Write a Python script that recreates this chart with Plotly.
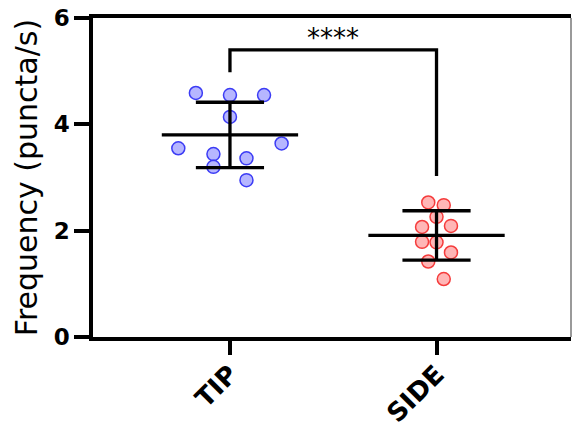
import plotly.graph_objects as go

categories = ["TIP", "SIDE"]
cat_pos = [0, 1]
tip_values = [4.59, 4.55, 4.55, 4.14, 3.55, 3.64, 3.44, 3.20, 3.36, 2.95]
tip_jitter = [-0.165, 0.0, 0.165, 0.0, -0.25, 0.25, -0.08, -0.08, 0.08, 0.08]
side_values = [2.53, 2.48, 2.26, 2.07, 2.09, 1.79, 1.78, 1.59, 1.42, 1.09]
side_jitter = [-0.04, 0.035, 0.0, -0.07, 0.07, -0.07, 0.0, 0.07, -0.04, 0.035]
means = [3.80, 1.91]
sds = [0.615, 0.465]
y_ticks = [0, 2, 4, 6]
sig_label = "****"
bracket_y = 5.40
bracket_left_bottom = 4.98
bracket_right_bottom = 3.03

FONT = "DejaVu Sans, Verdana, Arial"

fig = go.Figure()
series = [
    (tip_values, tip_jitter, "rgba(110,110,255,0.5)", "rgb(60,60,245)"),
    (side_values, side_jitter, "rgba(255,110,110,0.5)", "rgb(245,60,60)"),
]
for i, (vals, jit, fill, edge) in enumerate(series):
    xs = [cat_pos[i] + j for j in jit]
    fig.add_trace(go.Scatter(x=xs, y=vals, mode="markers",
                             marker=dict(size=13, color=fill, line=dict(color=edge, width=1.5)),
                             showlegend=False))

blk = dict(color="black", width=3.3)
for i in range(2):
    c = cat_pos[i]
    m, s = means[i], sds[i]
    fig.add_trace(go.Scatter(x=[c - 0.33, c + 0.33], y=[m, m], mode="lines", line=blk, showlegend=False))
    fig.add_trace(go.Scatter(x=[c, c], y=[m - s, m + s], mode="lines", line=blk, showlegend=False))
    for yv in (m - s, m + s):
        fig.add_trace(go.Scatter(x=[c - 0.165, c + 0.165], y=[yv, yv], mode="lines", line=blk, showlegend=False))

fig.add_trace(go.Scatter(x=[cat_pos[0], cat_pos[0], cat_pos[1], cat_pos[1]],
                         y=[bracket_left_bottom, bracket_y, bracket_y, bracket_right_bottom],
                         mode="lines", line=blk, showlegend=False))
fig.add_annotation(x=(cat_pos[0] + cat_pos[1]) / 2, y=bracket_y, text=sig_label, showarrow=False,
                   yanchor="bottom", yshift=-5, font=dict(family=FONT, size=26, color="black"))

fig.add_shape(type="line", xref="paper", yref="paper", x0=1, x1=1, y0=0, y1=1,
              line=dict(color="rgb(120,120,120)", width=1.5))

fig.update_layout(
    width=573, height=429,
    margin=dict(l=93, r=2, t=18, b=92),
    plot_bgcolor="white", paper_bgcolor="white",
    font=dict(family=FONT, color="black"),
    xaxis=dict(range=[-0.663, 1.651], tickvals=cat_pos, ticktext=["<b>%s</b>" % c for c in categories],
               tickangle=-45, showline=True, linecolor="black", linewidth=3.5, mirror=True,
               ticks="outside", ticklen=14, tickwidth=3.5, tickcolor="black", automargin=False,
               ticklabelstandoff=-6,
               showgrid=False, zeroline=False, tickfont=dict(family=FONT, size=26)),
    yaxis=dict(range=[0, 6], tickvals=y_ticks, ticktext=["<b>%d</b>" % t for t in y_ticks],
               showline=True, linecolor="black", linewidth=3.5, automargin=False,
               ticks="outside", ticklen=15, tickwidth=3.5, tickcolor="black",
               showgrid=False, zeroline=False, tickfont=dict(family=FONT, size=23),
               title=dict(text="Frequency (puncta/s)", font=dict(family=FONT, size=30), standoff=8)),
)

fig.write_html("out.html")
